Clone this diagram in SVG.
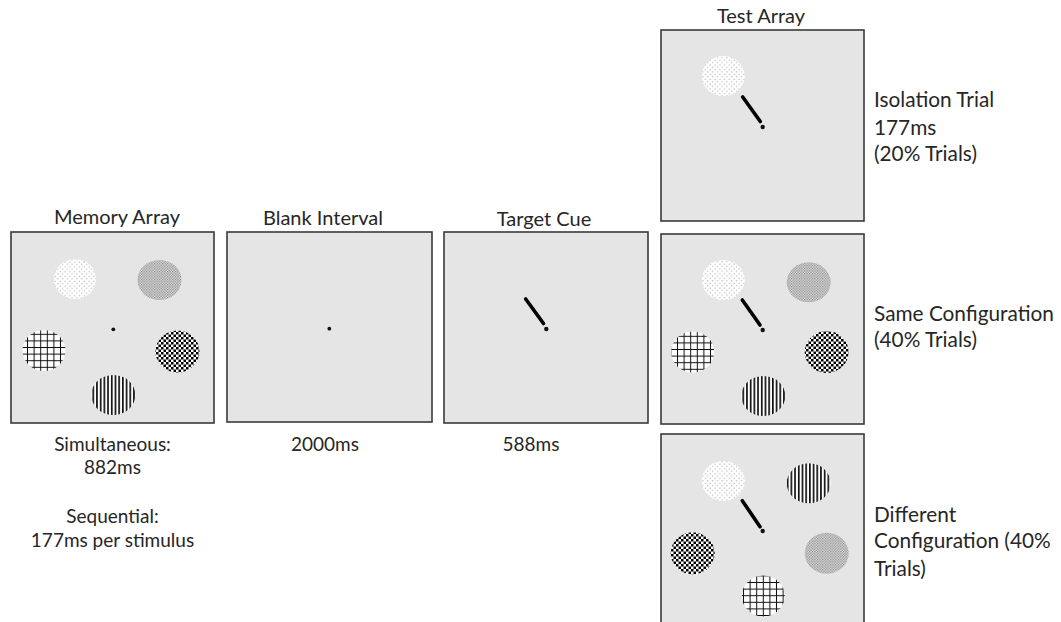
<svg xmlns="http://www.w3.org/2000/svg" width="1061" height="622" viewBox="0 0 1061 622">
<style>
.panel{fill:#e5e5e5;stroke:#3a3a3a;stroke-width:1.6}
.t{font-family:Lato,"Liberation Sans",sans-serif;font-size:19px;fill:#262626}
.h{font-size:20px}
.r{font-size:20.8px}
.c{text-anchor:middle}
.fix{fill:#111}
.cue{stroke:#000;stroke-width:3.6;stroke-linecap:round}
</style>
<defs>
<pattern id="pDots" width="4.8" height="4.8" patternUnits="userSpaceOnUse">
<rect width="4.8" height="4.8" fill="#fff"/>
<circle cx="1.2" cy="1.2" r="0.55" fill="#7a7a7a"/>
<circle cx="3.6" cy="3.6" r="0.55" fill="#7a7a7a"/>
</pattern>
<pattern id="pGray" width="2.6" height="2.6" patternUnits="userSpaceOnUse">
<rect width="2.6" height="2.6" fill="#e8e8e8"/>
<rect width="1.2" height="1.2" fill="#7a7a7a"/>
<rect x="1.3" y="1.3" width="1.2" height="1.2" fill="#7a7a7a"/>
</pattern>
<pattern id="pGrid" width="6.6" height="6.6" patternUnits="userSpaceOnUse">
<rect width="6.6" height="6.6" fill="#fff"/>
<rect x="2.8" width="1" height="6.6" fill="#111"/>
<rect y="2.8" width="6.6" height="1" fill="#111"/>
</pattern>
<pattern id="pCheck" width="5" height="5" patternUnits="userSpaceOnUse">
<rect width="5" height="5" fill="#fff"/>
<rect width="2.5" height="2.5" fill="#000"/>
<rect x="2.5" y="2.5" width="2.5" height="2.5" fill="#000"/>
</pattern>
<pattern id="pStripe" width="3.7" height="10" patternUnits="userSpaceOnUse">
<rect width="3.7" height="10" fill="#fff"/>
<rect width="1.7" height="10" fill="#111"/>
</pattern>
</defs>

<g id="memory-array">
<text class="t h c" x="117" y="224">Memory Array</text>
<g transform="translate(11,232)">
<rect class="panel" width="203" height="191"/>
<ellipse cx="64" cy="47" rx="21" ry="20" fill="url(#pDots)"/>
<ellipse cx="148.5" cy="48" rx="22" ry="20" fill="url(#pGray)"/>
<ellipse cx="33" cy="118.5" rx="21.5" ry="20.5" fill="url(#pGrid)"/>
<ellipse cx="166.5" cy="119.5" rx="22" ry="21" fill="url(#pCheck)"/>
<ellipse cx="102.3" cy="163" rx="22" ry="20" fill="url(#pStripe)"/>
<circle class="fix" cx="102.3" cy="97.3" r="1.9"/>
</g>
<text class="t c" x="112.5" y="450.5">Simultaneous:</text>
<text class="t c" x="112.5" y="474">882ms</text>
<text class="t c" x="112.5" y="523">Sequential:</text>
<text class="t c" x="112.5" y="547">177ms per stimulus</text>
</g>

<g id="blank-interval">
<text class="t h c" x="323" y="225">Blank Interval</text>
<g transform="translate(227,232)">
<rect class="panel" width="205" height="190"/>
<circle class="fix" cx="102.3" cy="96.7" r="1.9"/>
</g>
<text class="t c" x="325" y="450.5">2000ms</text>
</g>

<g id="target-cue">
<text class="t h c" x="544" y="226">Target Cue</text>
<g transform="translate(444,232)">
<rect class="panel" width="204" height="191"/>
<line class="cue" x1="81.7" y1="67" x2="99.5" y2="91.5"/>
<circle class="fix" cx="102.3" cy="97" r="2.2"/>
</g>
<text class="t c" x="531" y="450.5">588ms</text>
</g>

<g id="test-isolation">
<text class="t h c" x="761" y="23">Test Array</text>
<g transform="translate(661,30)">
<rect class="panel" width="203" height="191"/>
<ellipse cx="62.3" cy="46" rx="21.5" ry="20" fill="url(#pDots)"/>
<line class="cue" x1="81.7" y1="67" x2="99.3" y2="91.5"/>
<circle class="fix" cx="101.7" cy="97" r="2.2"/>
</g>
<text class="t r" x="874" y="107.3">Isolation Trial</text>
<text class="t r" x="874" y="134.5">177ms</text>
<text class="t r" x="874" y="161">(20% Trials)</text>
</g>

<g id="test-same">
<g transform="translate(661,234)">
<rect class="panel" width="203" height="190"/>
<ellipse cx="62.3" cy="46" rx="21.5" ry="20" fill="url(#pDots)"/>
<ellipse cx="147.7" cy="48.3" rx="22" ry="20" fill="url(#pGray)"/>
<ellipse cx="31.7" cy="118" rx="21.5" ry="20.5" fill="url(#pGrid)"/>
<ellipse cx="165.7" cy="118" rx="22" ry="21" fill="url(#pCheck)"/>
<ellipse cx="102.3" cy="162" rx="22" ry="20" fill="url(#pStripe)"/>
<line class="cue" x1="81.3" y1="66" x2="99" y2="91"/>
<circle class="fix" cx="101.7" cy="96" r="2.2"/>
</g>
<text class="t r" x="874" y="320.7">Same Configuration</text>
<text class="t r" x="874" y="346.7">(40% Trials)</text>
</g>

<g id="test-different">
<g transform="translate(661,434)">
<rect class="panel" width="203" height="192"/>
<ellipse cx="62.3" cy="47" rx="21.5" ry="20" fill="url(#pDots)"/>
<ellipse cx="147.7" cy="49.3" rx="22" ry="20" fill="url(#pStripe)"/>
<ellipse cx="31.7" cy="119.3" rx="22" ry="21" fill="url(#pCheck)"/>
<ellipse cx="165.7" cy="119.3" rx="22" ry="20.5" fill="url(#pGray)"/>
<ellipse cx="102.3" cy="162" rx="21.5" ry="20.5" fill="url(#pGrid)"/>
<line class="cue" x1="81.3" y1="66.7" x2="99" y2="92.7"/>
<circle class="fix" cx="101.7" cy="97" r="2.2"/>
</g>
<text class="t r" x="874" y="521.7">Different</text>
<text class="t r" x="874" y="548.3">Configuration (40%</text>
<text class="t r" x="874" y="576">Trials)</text>
</g>
</svg>
